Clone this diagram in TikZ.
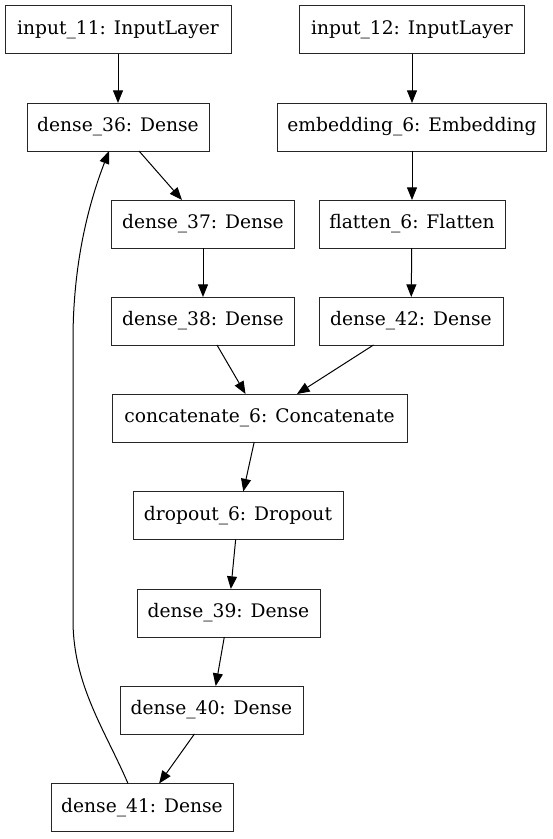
\documentclass[tikz,border=0pt]{standalone}
\usepackage{fontspec}
\setmainfont{DejaVu Serif}
\usetikzlibrary{positioning, arrows.meta}

\begin{document}
\begin{tikzpicture}[x=0.75pt, y=-0.75pt,
		every edge/.style = {draw=black, line width=0.75pt,
			-{Triangle[length=9.5pt, width=7.5pt]}},
		lyr/.style = {rectangle, draw=black!85, line width=0.75pt,
			fill=white, inner sep=0pt, outer sep=0pt,
			minimum height=36pt, minimum width=#1,
			font=\fontsize{14pt}{16pt}\selectfont}
                    ]
		\useasboundingbox (0,0) rectangle (553,839);
		\node(in11) [lyr=169.5pt]   at (118, 29.5)   {input\_11: InputLayer};
		\node(in12) [lyr=168.75pt]  at (412, 29.5)   {input\_12: InputLayer};
		\node(d36)  [lyr=136.5pt]   at (118, 127)    {dense\_36: Dense};
		\node(emb6) [lyr=201.75pt]  at (412, 127)    {embedding\_6: Embedding};
		\node(d37)  [lyr=137.25pt]  at (203, 224)    {dense\_37: Dense};
		\node(fl6)  [lyr=139.5pt]   at (412, 224)    {flatten\_6: Flatten};
		\node(d38)  [lyr=137.25pt]  at (203, 321)    {dense\_38: Dense};
		\node(d42)  [lyr=138pt]     at (411, 321)    {dense\_42: Dense};
		\node(cat6) [lyr=221.25pt]  at (259.5, 418)  {concatenate\_6: Concatenate};
		\node(drp6) [lyr=157.5pt]   at (238, 515.5)  {dropout\_6: Dropout};
		\node(d39)  [lyr=137.25pt]  at (228.5, 613)  {dense\_39: Dense};
		\node(d40)  [lyr=137.25pt]  at (211.5, 710)  {dense\_40: Dense};
		\node(d41)  [lyr=136.5pt]   at (142, 807.5)  {dense\_41: Dense};

		\path   (in11) edge (d36)
		        (in12) edge (emb6)
		        (d36)  edge (d37)
		        (emb6) edge (fl6)
		        (d37)  edge (d38)
		        (fl6)  edge (d42)
		        (d38)  edge (cat6)
		        (d42)  edge (cat6)
		        (cat6) edge (drp6)
		        (drp6) edge (d39)
		        (d39)  edge (d40)
		        (d40)  edge (d41);

		% skip connection back up
		\draw[line width=0.75pt, -{Triangle[length=9.5pt, width=7.5pt]}]
			([xshift=-10.5pt]d41.north) .. controls (105,730) and (73,685) .. (73,620)
			-- (73,340) .. controls (73,260) and (90,200) .. ([xshift=-6.75pt]d36.south);
	\end{tikzpicture}
\end{document}
